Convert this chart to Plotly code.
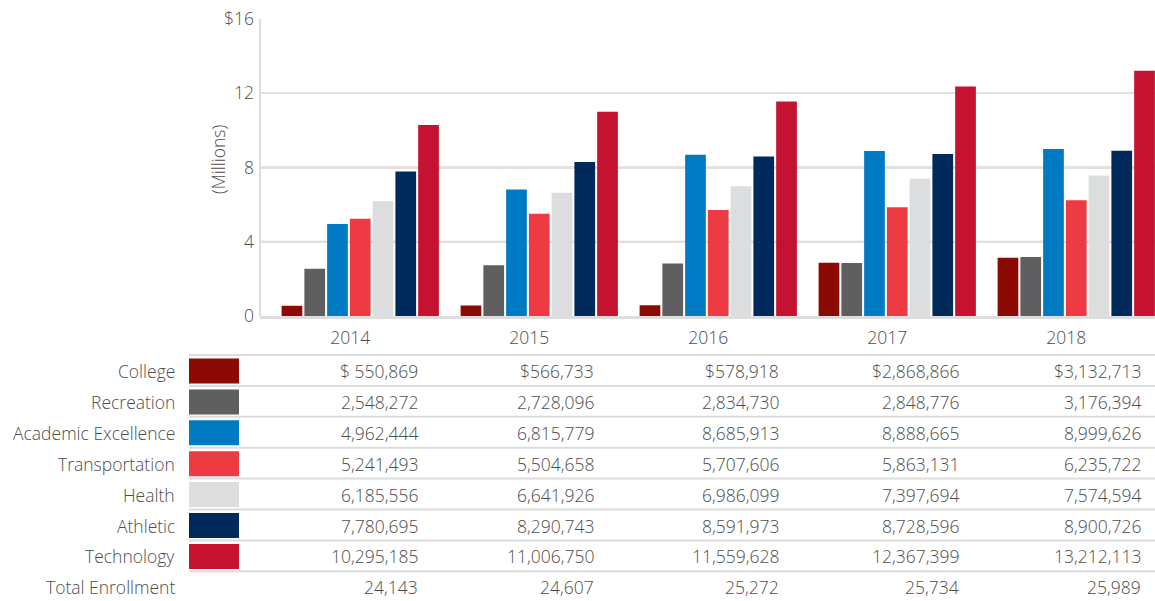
import plotly.graph_objects as go

# Fee revenue by program, in dollars
years = ["2014", "2015", "2016", "2017", "2018"]
college = [550869, 566733, 578918, 2868866, 3132713]
recreation = [2548272, 2728096, 2834730, 2848776, 3176394]
academic = [4962444, 6815779, 8685913, 8888665, 8999626]
transportation = [5241493, 5504658, 5707606, 5863131, 6235722]
health = [6185556, 6641926, 6986099, 7397694, 7574594]
athletic = [7780695, 8290743, 8591973, 8728596, 8900726]
technology = [10295185, 11006750, 11559628, 12367399, 13212113]
enrollment = [24143, 24607, 25272, 25734, 25989]
college_prefix = ["$ ", "$", "$", "$", "$"]

series_names = ["College", "Recreation", "Academic Excellence", "Transportation",
                "Health", "Athletic", "Technology"]
series_values = [college, recreation, academic, transportation, health, athletic, technology]
series_colors = ["#8b0b03", "#5f5f61", "#007ac2", "#ee3a43", "#dcdddf", "#002a5c", "#c41230"]

y_ticks = [0, 4, 8, 12, 16]
y_tick_text = ["0", "4", "8", "12", "$16"]

W, H = 1155, 601
L, R, T, B = 260, 0, 19, 285
PW, PH = W - L - R, H - T - B
FONT = "Open Sans"
WEIGHT = 300
TXT = "#4d4d4d"
FS = 17.5

# right edges (px) of the table's year columns
col_right = [420, 596, 781, 961, 1143]


def px(x):
    return (x - L) / PW


def py(y):
    return (H - B - y) / PH


def fnt(size=FS):
    return dict(family=FONT, size=size, color=TXT, weight=WEIGHT)


fig = go.Figure()
for name, vals, col in zip(series_names, series_values, series_colors):
    fig.add_trace(go.Bar(
        x=years, y=[v / 1e6 for v in vals], name=name,
        marker=dict(color=col, line=dict(width=0)),
        showlegend=False,
    ))

shapes = []
# reddish reference lines at 4 and 8
for yv in (4, 8):
    shapes.append(dict(type="line", xref="paper", yref="y", x0=0, x1=1, y0=yv, y1=yv,
                       line=dict(color="#dcc0c8", width=2), layer="below"))
# left axis line
shapes.append(dict(type="line", xref="paper", yref="paper", x0=0, x1=0, y0=0, y1=1,
                   line=dict(color="#dddddd", width=2), layer="below"))

annotations = []
row_step = 30.9
row0 = 371
swatch_x0, swatch_x1 = 189, 239
label_right = 177

row_labels = series_names + ["Total Enrollment"]
for i, label in enumerate(row_labels):
    cy = row0 + i * row_step
    # separator line above each row
    shapes.append(dict(type="line", xref="paper", yref="paper",
                       x0=px(swatch_x0), x1=px(W), y0=py(cy - 16), y1=py(cy - 16),
                       line=dict(color="#dcdcdc", width=2)))
    annotations.append(dict(xref="paper", yref="paper", x=px(label_right), y=py(cy),
                            text=label, showarrow=False, xanchor="right", yanchor="middle",
                            font=fnt()))
    if i < len(series_names):
        shapes.append(dict(type="rect", xref="paper", yref="paper",
                           x0=px(swatch_x0), x1=px(swatch_x1),
                           y0=py(cy - 12.5), y1=py(cy + 12.5),
                           fillcolor=series_colors[i], line=dict(width=0)))
        texts = []
        for j, v in enumerate(series_values[i]):
            s = f"{v:,}"
            if i == 0:
                s = college_prefix[j] + s
            texts.append(s)
    else:
        texts = [f"{v:,}" for v in enrollment]
    for j, t in enumerate(texts):
        annotations.append(dict(xref="paper", yref="paper", x=px(col_right[j]), y=py(cy),
                                text=t, showarrow=False, xanchor="right", yanchor="middle",
                                font=fnt()))

# y-axis title
annotations.append(dict(xref="paper", yref="paper", x=px(218), y=py(160), text="(Millions)",
                        textangle=-90, showarrow=False, xanchor="center", yanchor="middle",
                        font=fnt(17.5)))

fig.update_layout(
    width=W, height=H,
    margin=dict(l=L, r=R, t=T, b=B, pad=0),
    paper_bgcolor="white", plot_bgcolor="white",
    barmode="group", bargap=0.11, bargroupgap=0.09,
    font=fnt(),
    xaxis=dict(type="category", categoryorder="array", categoryarray=years,
               range=[-0.56, len(years) - 0.56], autorange=False,
               showgrid=False, showline=True, linecolor="#dddddd",
               linewidth=3, ticks="", tickfont=fnt(),
               ticklabelstandoff=4, ticklabelshift=-10, fixedrange=True),
    yaxis=dict(range=[0, 16], autorange=False, tickvals=y_ticks, ticktext=y_tick_text,
               showgrid=True, gridcolor="#e0e0e0", gridwidth=2,
               zeroline=False, showline=False, ticks="",
               tickfont=fnt(), ticklabelstandoff=5, fixedrange=True),
    shapes=shapes, annotations=annotations,
)

fig.write_html("out.html")
